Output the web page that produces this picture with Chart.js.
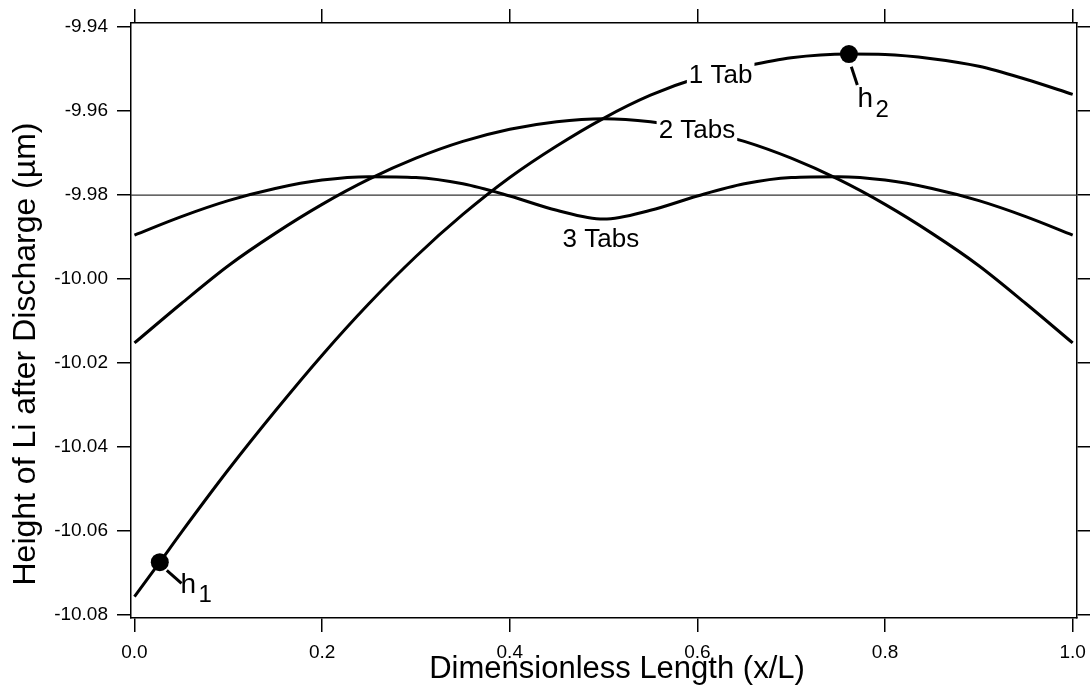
<!DOCTYPE html>
<html>
<head>
<meta charset="utf-8">
<script src="https://cdn.jsdelivr.net/npm/chart.js"></script>
<style>
  html, body { margin: 0; padding: 0; background: #fff; }
  #wrap { width: 1090px; height: 689px; position: relative; }
</style>
</head>
<body>
<div id="wrap"><canvas id="liChart"></canvas></div>
<script>
// Li height profile after discharge, for 1, 2 and 3 current tabs
const xTicks = [0.0, 0.2, 0.4, 0.6, 0.8, 1.0];
const yTicks = [-9.94, -9.96, -9.98, -10.00, -10.02, -10.04, -10.06, -10.08];

const oneTabX = [0, 0.027, 0.05, 0.1, 0.15, 0.2, 0.25, 0.3, 0.35, 0.4, 0.45, 0.5,
                 0.55, 0.6, 0.65, 0.7, 0.7615, 0.8, 0.85, 0.9, 0.95, 1.0];
const oneTabY = [-10.0756, -10.0674, -10.0603, -10.0454, -10.0314, -10.0181, -10.0058,
                 -9.9946, -9.9846, -9.9758, -9.9683, -9.9617, -9.9562, -9.9521, -9.9494,
                 -9.9473, -9.9464, -9.9465, -9.9475, -9.9493, -9.9524, -9.9560];

const gridX = [0, 0.05, 0.1, 0.15, 0.2, 0.25, 0.3, 0.35, 0.4, 0.45, 0.5,
               0.55, 0.6, 0.65, 0.7, 0.75, 0.8, 0.85, 0.9, 0.95, 1.0];
const twoTabsY = [-10.0152, -10.0058, -9.9968, -9.9891, -9.9822, -9.9762, -9.9712,
                  -9.9672, -9.9643, -9.9625, -9.9618, -9.9625, -9.9643, -9.9672,
                  -9.9712, -9.9762, -9.9822, -9.9891, -9.9968, -10.0058, -10.0152];
const threeTabsY = [-9.9895, -9.9851, -9.9813, -9.9784, -9.9764, -9.9756, -9.9758,
                    -9.9773, -9.9802, -9.9836, -9.9857, -9.9836, -9.9802, -9.9773,
                    -9.9758, -9.9756, -9.9764, -9.9784, -9.9813, -9.9851, -9.9895];

// marked points h1 (start of 1 Tab) and h2 (its maximum)
const markNames = ['1', '2'];
const markX = [0.027, 0.7615];
const markY = [-10.0674, -9.9464];

const refLevel = -9.98;

const xTitle = 'Dimensionless Length (x/L)';
const yTitle = 'Height of Li after Discharge (µm)';

const X_MIN = -0.0037, X_MAX = 1.0046;
const Y_MIN = -10.0807, Y_MAX = -9.9390;

const FONT = '"Liberation Sans", Arial, Helvetica, sans-serif';

function pts(xs, ys) {
    return xs.map((x, i) => ({ x: x, y: ys[i] }));
}

// text labels sitting on the curves (data coords of the text baseline centre)
const curveLabels = [
    { text: '1 Tab',  x: 0.6248, y: -9.9533, knockout: true },
    { text: '2 Tabs', x: 0.5995, y: -9.9665, knockout: true },
    { text: '3 Tabs', x: 0.4971, y: -9.9924, knockout: false }
];

// leader line + "h" label offsets in pixels from each marker
const callouts = [
    { lead: [7, 8.3, 21.7, 21.3], h: [20.7, 31.3], sub: [38.6, 40] },
    { lead: [2.4, 12.7, 8.4, 31], h: [8.7, 53.3], sub: [26.7, 62.7] }
];

const annotate = {
    id: 'annotate',
    afterDatasetsDraw(chart) {
        const { ctx } = chart;
        const xs = chart.scales.x, ys = chart.scales.y;
        ctx.save();

        ctx.font = '26px ' + FONT;
        ctx.textAlign = 'center';
        ctx.textBaseline = 'alphabetic';
        curveLabels.forEach(l => {
            const px = xs.getPixelForValue(l.x);
            const py = ys.getPixelForValue(l.y);
            const w = ctx.measureText(l.text).width;
            if (l.knockout) {
                ctx.fillStyle = '#fff';
                ctx.fillRect(px - w / 2 - 2, py - 21, w + 4, 26);
            }
            ctx.fillStyle = '#000';
            ctx.fillText(l.text, px, py);
        });

        ctx.textAlign = 'left';
        ctx.strokeStyle = '#000';
        ctx.lineWidth = 3;
        ctx.lineCap = 'butt';
        markNames.forEach((name, i) => {
            const px = xs.getPixelForValue(markX[i]);
            const py = ys.getPixelForValue(markY[i]);
            const c = callouts[i];
            ctx.beginPath();
            ctx.moveTo(px + c.lead[0], py + c.lead[1]);
            ctx.lineTo(px + c.lead[2], py + c.lead[3]);
            ctx.stroke();
            ctx.fillStyle = '#000';
            ctx.font = '28px ' + FONT;
            ctx.fillText('h', px + c.h[0], py + c.h[1]);
            ctx.font = '24px ' + FONT;
            ctx.fillText(name, px + c.sub[0], py + c.sub[1]);
        });
        ctx.restore();
    },
    // axis titles sit a little off the plot centre, so they are placed by hand
    afterDraw(chart) {
        const { ctx } = chart;
        ctx.save();
        ctx.fillStyle = '#000';
        ctx.font = '31px ' + FONT;
        ctx.textAlign = 'center';
        ctx.textBaseline = 'alphabetic';
        ctx.fillText(xTitle, 617, 678);
        ctx.font = '32px ' + FONT;
        ctx.translate(35, 354);
        ctx.rotate(-Math.PI / 2);
        ctx.fillText(yTitle, 0, 0);
        ctx.restore();
    }
};

const axisLine = { display: true, color: '#000', width: 1.5 };
const tickMarks = (len) => ({
    drawOnChartArea: false, drawTicks: true, tickLength: len, color: '#000', lineWidth: 1.5
});

// fixed box sizes; no extra side padding for overhanging tick labels
const fixHeight = (h) => (s) => { s.height = h; s.paddingLeft = 0; s.paddingRight = 0; };
const fixWidth = (w) => (s) => { s.width = w; s.paddingTop = 0; s.paddingBottom = 0; };

new Chart(document.getElementById('liChart'), {
    type: 'line',
    data: {
        datasets: [
            {
                type: 'scatter',
                data: pts(markX, markY),
                pointRadius: 9,
                pointBackgroundColor: '#000',
                pointBorderWidth: 0,
                order: 0
            },
            {
                label: '1 Tab',
                data: pts(oneTabX, oneTabY),
                borderColor: '#000', borderWidth: 3, pointRadius: 0,
                cubicInterpolationMode: 'monotone', fill: false, order: 1
            },
            {
                label: '2 Tabs',
                data: pts(gridX, twoTabsY),
                borderColor: '#000', borderWidth: 3, pointRadius: 0,
                cubicInterpolationMode: 'monotone', fill: false, order: 1
            },
            {
                label: '3 Tabs',
                data: pts(gridX, threeTabsY),
                borderColor: '#000', borderWidth: 3, pointRadius: 0,
                cubicInterpolationMode: 'monotone', fill: false, order: 1
            },
            {
                label: 'ref',
                data: [{ x: X_MIN, y: refLevel }, { x: X_MAX, y: refLevel }],
                borderColor: '#333', borderWidth: 1.3, pointRadius: 0,
                tension: 0, fill: false, order: 2
            }
        ]
    },
    options: {
        responsive: true,
        maintainAspectRatio: false,
        animation: false,
        events: [],
        layout: { padding: 0 },
        plugins: {
            legend: { display: false },
            tooltip: { enabled: false }
        },
        scales: {
            x: {
                type: 'linear', position: 'bottom', min: X_MIN, max: X_MAX,
                afterBuildTicks: s => { s.ticks = xTicks.map(v => ({ value: v })); },
                afterFit: fixHeight(71),
                grid: tickMarks(14),
                border: axisLine,
                ticks: {
                    color: '#000', font: { family: FONT, size: 19 }, padding: 9,
                    maxRotation: 0, autoSkip: false,
                    callback: v => v.toFixed(1)
                }
            },
            x2: {
                type: 'linear', position: 'top', min: X_MIN, max: X_MAX,
                afterBuildTicks: s => { s.ticks = xTicks.map(v => ({ value: v })); },
                afterFit: fixHeight(23),
                grid: tickMarks(14),
                border: axisLine,
                ticks: { display: false }
            },
            y: {
                type: 'linear', position: 'left', min: Y_MIN, max: Y_MAX,
                afterBuildTicks: s => { s.ticks = yTicks.map(v => ({ value: v })); },
                afterFit: fixWidth(131),
                grid: tickMarks(14),
                border: axisLine,
                ticks: {
                    color: '#000', font: { family: FONT, size: 19 }, padding: 9,
                    autoSkip: false,
                    callback: v => v.toFixed(2)
                }
            },
            y2: {
                type: 'linear', position: 'right', min: Y_MIN, max: Y_MAX,
                afterBuildTicks: s => { s.ticks = yTicks.map(v => ({ value: v })); },
                afterFit: fixWidth(13),
                grid: tickMarks(13),
                border: axisLine,
                ticks: { display: false }
            }
        }
    },
    plugins: [annotate]
});
</script>
</body>
</html>
